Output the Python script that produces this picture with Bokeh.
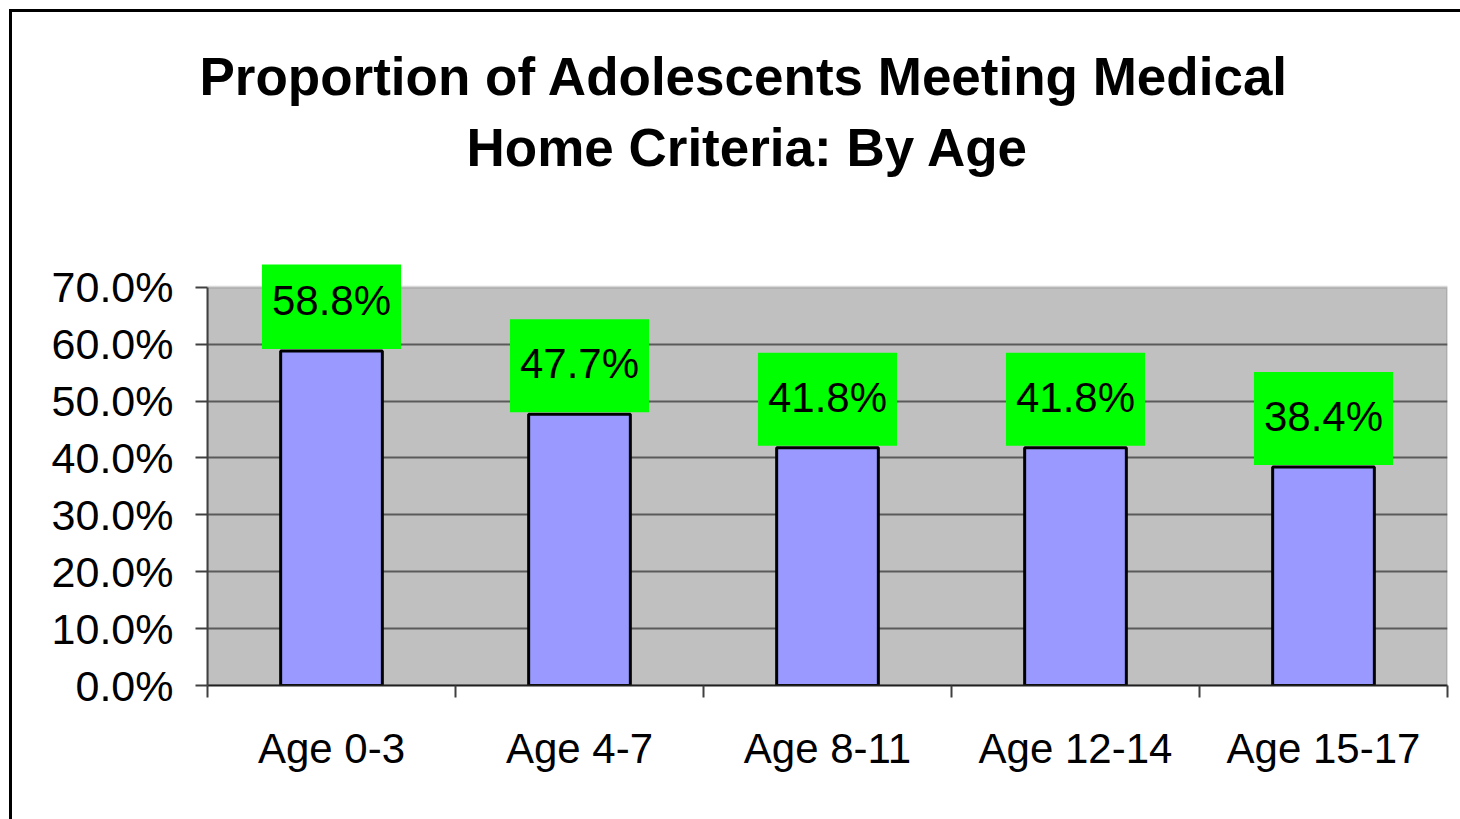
from bokeh.plotting import figure
from bokeh.models import (Range1d, FixedTicker, NumeralTickFormatter,
                          ColumnDataSource, Title, BoxAnnotation)
from bokeh.layouts import column
from bokeh.embed import file_html
from bokeh.resources import INLINE
from bokeh.core.properties import value

categories = ["Age 0-3", "Age 4-7", "Age 8-11", "Age 12-14", "Age 15-17"]
values = [0.588, 0.477, 0.418, 0.418, 0.384]
value_labels = ["58.8%", "47.7%", "41.8%", "41.8%", "38.4%"]
y_ticks = [0.0, 0.1, 0.2, 0.3, 0.4, 0.5, 0.6, 0.7]
title_lines = ["Proportion of Adolescents Meeting Medical", "Home Criteria: By Age"]

FONT = "Liberation Sans"
n = len(categories)
centers = [i + 0.5 for i in range(n)]
bounds = list(range(n + 1))
y_max = y_ticks[-1]
VIEW_TOP = 0.74   # head-room so the top data label is not clipped

# ---- title strip ----
tf = figure(width=1448, height=230, output_backend="svg", toolbar_location=None,
            x_axis_type=None, y_axis_type=None, x_range=Range1d(0, 1),
            y_range=Range1d(0, 1), min_border_left=195, min_border_right=13,
            min_border_top=169, min_border_bottom=0, outline_line_color=None,
            background_fill_color="white", border_fill_color="white")
t2 = Title(text=title_lines[1], align="left", offset=259, vertical_align="bottom",
           standoff=10, text_font=FONT, text_font_size="53px",
           text_font_style="bold", text_color="black")
t1 = Title(text=title_lines[0], align="left", offset=-8, vertical_align="bottom",
           standoff=10, text_font=FONT, text_font_size="53px",
           text_font_style="bold", text_color="black")
tf.add_layout(t2, "above")
tf.add_layout(t1, "above")

# ---- chart ----
src = ColumnDataSource(dict(x=centers, top=values, lab=value_labels))

p = figure(width=1448, height=577, output_backend="svg", toolbar_location=None,
           x_range=Range1d(0, n), y_range=Range1d(0, VIEW_TOP),
           min_border_left=195, min_border_right=13, min_border_top=22,
           min_border_bottom=134, background_fill_color="white",
           border_fill_color="white", outline_line_color=None)

plot_area = BoxAnnotation(left=0, right=n, bottom=0, top=y_max,
                          fill_color="#C0C0C0", fill_alpha=1.0,
                          line_color="#808080", line_width=3, level="image")
p.add_layout(plot_area)

p.vbar(x="x", top="top", width=0.41, bottom=0, source=src,
       fill_color="#9999FF", line_color="black", line_width=3)

p.text(x="x", y="top", text="lab", source=src,
       text_font=value(FONT), text_font_size="42px", text_color="black",
       text_align="center", text_baseline="alphabetic",
       anchor="bottom_center", y_offset=-2,
       background_fill_color="#00FF00",
       padding=dict(left=10, right=10, top=21, bottom=25))

# y axis
ya = p.yaxis[0]
ya.ticker = FixedTicker(ticks=y_ticks)
ya.bounds = (0, y_max)
ya.formatter = NumeralTickFormatter(format="0.0%")
ya.major_label_text_font = FONT
ya.major_label_text_font_size = "43px"
ya.major_label_text_color = "black"
ya.major_tick_out = 12
ya.major_tick_in = 0
ya.minor_tick_line_color = None
ya.major_tick_line_color = "#404040"
ya.major_tick_line_width = 2
ya.axis_line_color = "#404040"
ya.axis_line_width = 2
ya.major_label_standoff = 22

# x axis: labels at category centres, ticks at category boundaries
xa = p.xaxis[0]
xa.ticker = FixedTicker(ticks=centers, minor_ticks=bounds)
xa.major_label_overrides = {c: t for c, t in zip(centers, categories)}
xa.major_label_text_font = FONT
xa.major_label_text_font_size = "42px"
xa.major_label_text_color = "black"
xa.major_label_standoff = 27
xa.major_tick_line_color = None
xa.major_tick_out = 0
xa.major_tick_in = 0
xa.minor_tick_out = 12
xa.minor_tick_in = 0
xa.minor_tick_line_color = "#404040"
xa.minor_tick_line_width = 2
xa.axis_line_color = "#202020"
xa.axis_line_width = 2

p.xgrid.visible = False
p.ygrid.ticker = FixedTicker(ticks=y_ticks[1:-1])
p.ygrid.grid_line_color = "#5a5a5a"
p.ygrid.grid_line_width = 2

layout = column(tf, p, styles={"border-top": "3px solid black",
                               "border-left": "3px solid black",
                               "margin-left": "9px", "margin-top": "9px"})

open("out.html", "w").write(file_html(layout, INLINE))
